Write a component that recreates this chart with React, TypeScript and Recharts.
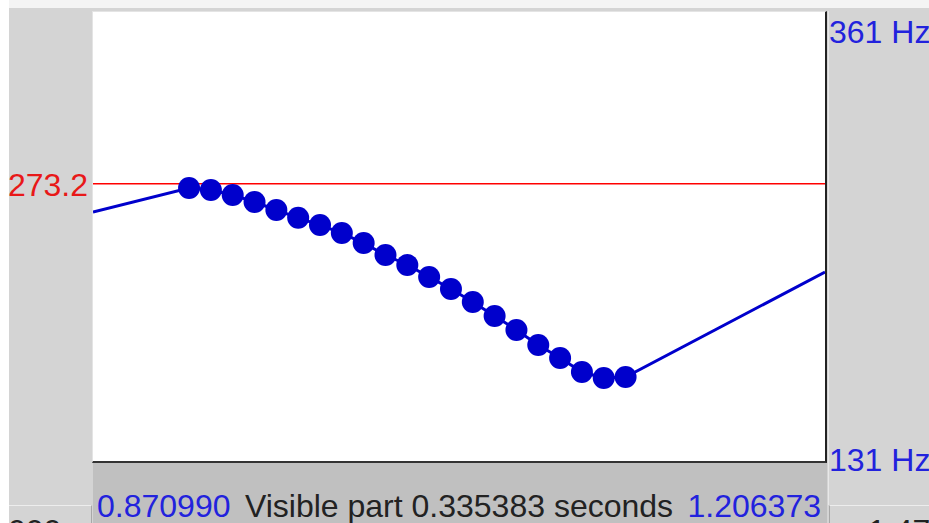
import React from "react";
import { ComposedChart, Line, XAxis, YAxis, ReferenceLine, Label } from "recharts";

const startTime = 0.87099;
const endTime = 1.206373;
const visiblePart = "0.335383";
const minHz = 131;
const maxHz = 361;
const cursorHz = 273.2;

// voiced pitch frames (10 ms step)
const frameTimes = [
  0.915, 0.925, 0.935, 0.945, 0.955, 0.965, 0.975, 0.985, 0.995, 1.005, 1.015,
  1.025, 1.035, 1.045, 1.055, 1.065, 1.075, 1.085, 1.095, 1.105, 1.115,
];
const frameHz = [
  271.0, 270.0, 267.5, 263.9, 259.8, 255.8, 252.1, 248.0, 242.9, 236.8, 231.7,
  225.6, 219.4, 212.8, 205.6, 198.5, 190.8, 184.2, 177.0, 173.9, 174.4,
];
// pitch where the contour crosses the window edges
const leftEdgeHz = 258.8;
const rightEdgeHz = 228.1;

const yTicks = [minHz, maxHz];
const xTicks = [startTime, endTime];

const data = [
  { t: startTime, f: leftEdgeHz, voiced: false },
  ...frameTimes.map((t, i) => ({ t, f: frameHz[i], voiced: true })),
  { t: endTime, f: rightEdgeHz, voiced: false },
];

const FONT = '"Liberation Sans", Arial, sans-serif';
const BLUE = "#2222dd";
const DOT = "#0000cc";

const Dot = (props: any) => {
  const { cx, cy, payload, index } = props;
  if (!payload || !payload.voiced) return <g key={`d${index}`} />;
  return <circle key={`d${index}`} cx={cx} cy={cy} r={11} fill={DOT} stroke="none" />;
};

const XTick = (props: any) => {
  const { x, payload } = props;
  const isStart = Math.abs(payload.value - startTime) < 1e-9;
  return (
    <text
      x={isStart ? x + 4 : x - 4}
      y={517}
      textAnchor={isStart ? "start" : "end"}
      fill={BLUE}
      fontSize={32}
      fontFamily={FONT}
    >
      {isStart ? startTime.toFixed(6) : endTime.toFixed(6)}
    </text>
  );
};

const YTick = (props: any) => {
  const { y, payload } = props;
  const isTop = payload.value === maxHz;
  return (
    <text
      x={829}
      y={isTop ? y + 31 : y + 9}
      textAnchor="start"
      fill={BLUE}
      fontSize={32}
      fontFamily={FONT}
    >
      {`${payload.value} Hz`}
    </text>
  );
};

export default function App() {
  return (
    <div
      style={{
        position: "absolute",
        left: 0,
        top: 0,
        width: 929,
        height: 523,
        overflow: "hidden",
        background: "#d4d4d4",
      }}
    >
      <div style={{ position: "absolute", left: 0, top: 0, width: 929, height: 8, background: "#f4f4f4" }} />
      <div style={{ position: "absolute", left: 0, top: 0, width: 9, height: 523, background: "#ffffff" }} />
      <div
        style={{
          position: "absolute",
          left: 92,
          top: 11,
          width: 735,
          height: 452,
          boxSizing: "border-box",
          background: "#ffffff",
          borderTop: "1px solid #e4e4e4",
          borderLeft: "1px solid #e4e4e4",
          borderRight: "2px solid #222222",
          borderBottom: "2px solid #333333",
        }}
      />
      <div style={{ position: "absolute", left: 93, top: 463, width: 734, height: 60, background: "#c0c0c0" }} />
      <div style={{ position: "absolute", left: 828, top: 11, width: 1, height: 494, background: "#e8e8e8" }} />
      <div
        style={{
          position: "absolute",
          left: 9,
          top: 505,
          width: 83,
          height: 18,
          boxSizing: "border-box",
          background: "#d4d4d4",
          borderTop: "1px solid #ededed",
          borderRight: "1px solid #a8a8a8",
          overflow: "hidden",
        }}
      >
        <div style={{ position: "absolute", left: -1, top: 9, fontFamily: FONT, fontSize: 32, lineHeight: "32px", color: "#222" }}>
          000
        </div>
      </div>
      <div
        style={{
          position: "absolute",
          left: 829,
          top: 505,
          width: 100,
          height: 18,
          boxSizing: "border-box",
          background: "#d4d4d4",
          borderTop: "1px solid #ededed",
          borderLeft: "1px solid #a8a8a8",
          overflow: "hidden",
        }}
      >
        <div style={{ position: "absolute", left: 38, top: 9, fontFamily: FONT, fontSize: 32, lineHeight: "32px", color: "#222" }}>
          1.47
        </div>
      </div>
      <div style={{ position: "absolute", left: 0, top: 0 }}>
        <ComposedChart
          width={929}
          height={523}
          data={data}
          margin={{ top: 12, right: 0, bottom: 0, left: 93 }}
        >
          <XAxis
            type="number"
            dataKey="t"
            domain={[startTime, endTime]}
            ticks={xTicks}
            interval={0}
            allowDataOverflow
            height={61}
            axisLine={false}
            tickLine={false}
            tickSize={0}
            tick={<XTick />}
          >
            <Label
              content={(p: any) => {
                const vb = p.viewBox || {};
                return (
                  <text
                    x={vb.x + vb.width / 2}
                    y={517}
                    textAnchor="middle"
                    fill="#222222"
                    fontSize={32}
                    fontFamily={FONT}
                  >
                    {`Visible part ${visiblePart} seconds`}
                  </text>
                );
              }}
            />
          </XAxis>
          <YAxis
            yAxisId="hz"
            orientation="right"
            type="number"
            domain={[minHz, maxHz]}
            ticks={yTicks}
            interval={0}
            allowDataOverflow
            width={104}
            axisLine={false}
            tickLine={false}
            tickSize={0}
            tick={<YTick />}
          />
          <ReferenceLine
            yAxisId="hz"
            y={cursorHz}
            stroke="#ff0000"
            strokeWidth={1.5}
            label={(p: any) => {
              const vb = p.viewBox || {};
              return (
                <text
                  x={vb.x - 5}
                  y={vb.y + 12}
                  textAnchor="end"
                  fill="#e81818"
                  fontSize={32}
                  fontFamily={FONT}
                >
                  {cursorHz.toFixed(1)}
                </text>
              );
            }}
          />
          <Line
            yAxisId="hz"
            type="linear"
            dataKey="f"
            stroke={DOT}
            strokeWidth={3}
            dot={Dot}
            activeDot={false}
            isAnimationActive={false}
          />
        </ComposedChart>
      </div>
    </div>
  );
}
